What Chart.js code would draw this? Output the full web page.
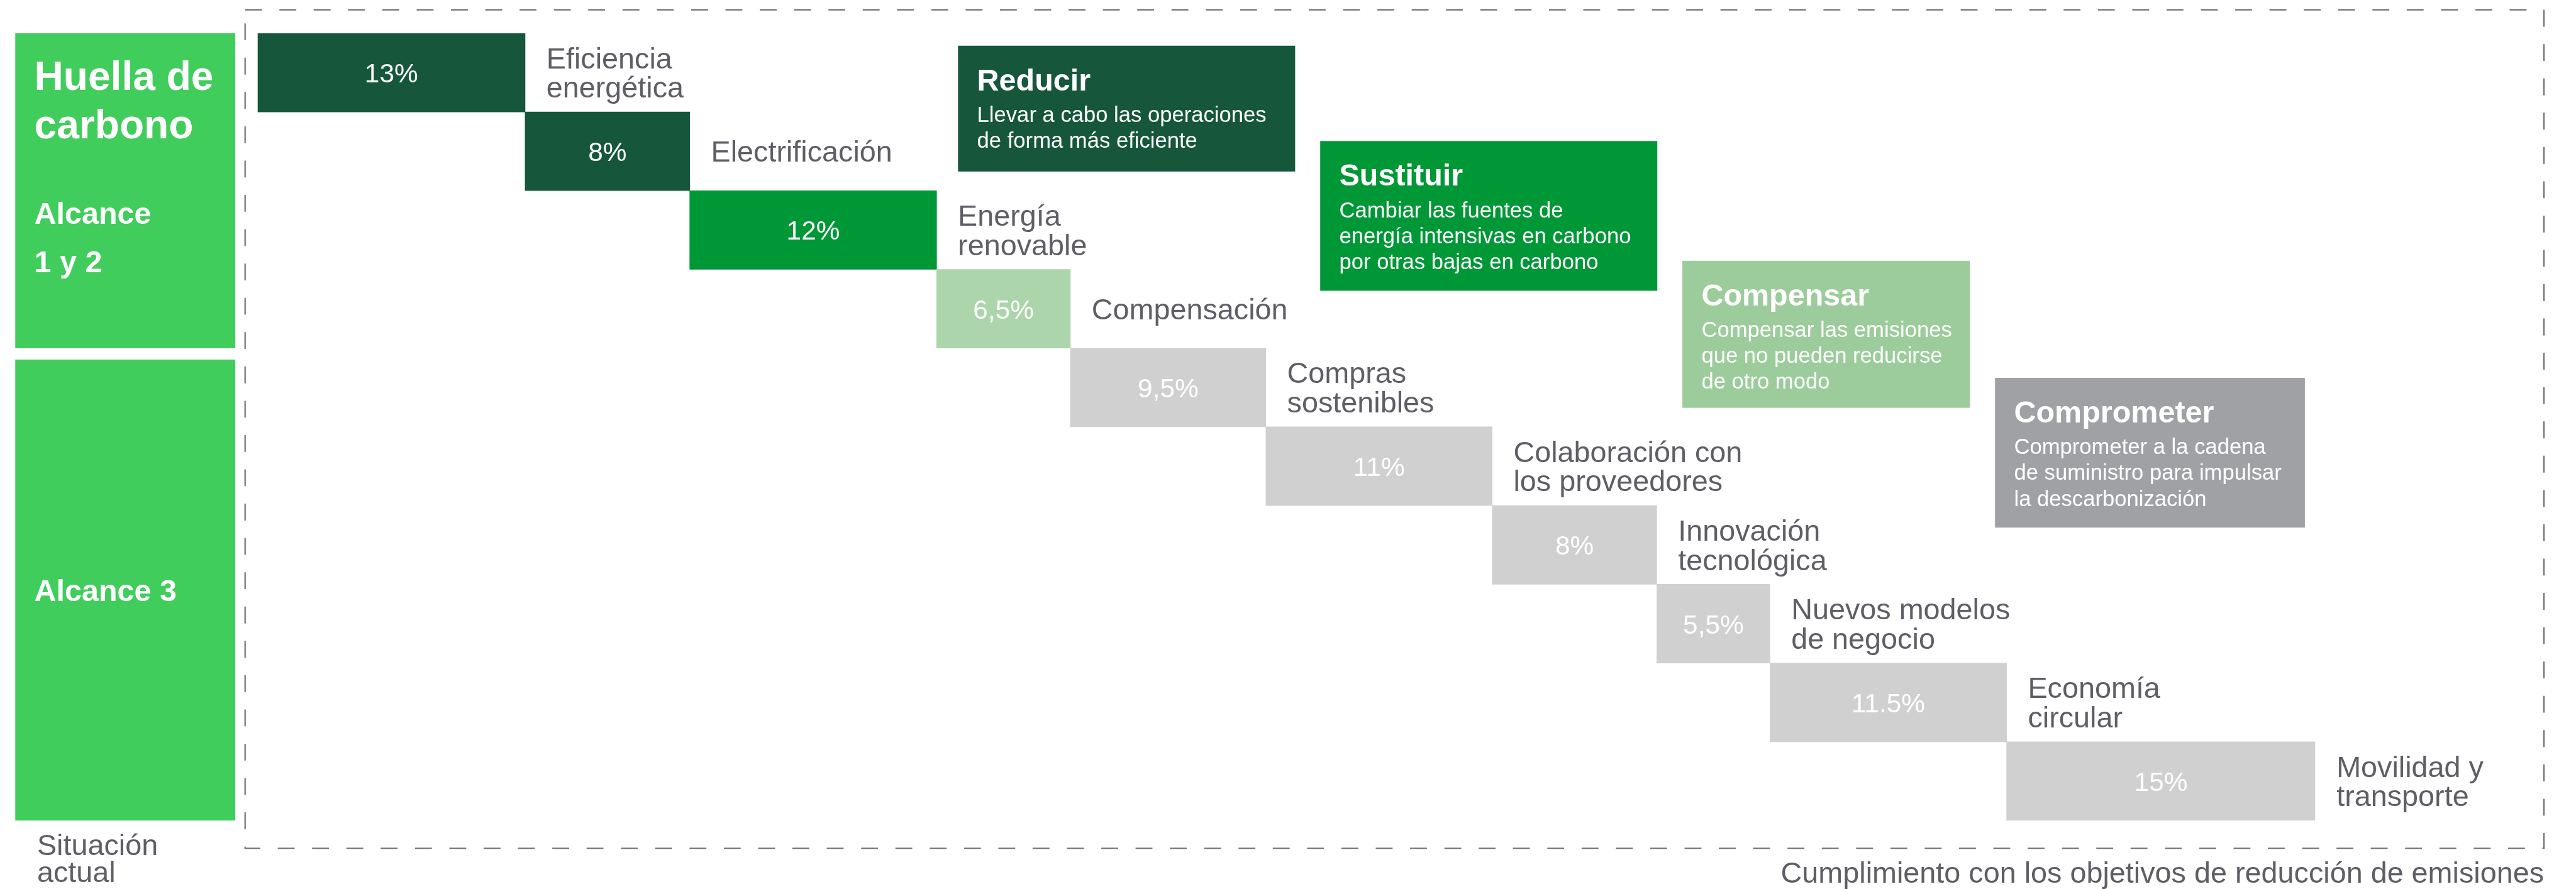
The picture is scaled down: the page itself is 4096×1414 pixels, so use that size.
<!DOCTYPE html>
<html>
<head>
<meta charset="utf-8">
<script src="https://cdn.jsdelivr.net/npm/chart.js@4/dist/chart.umd.min.js"></script>
<style>
  html, body { margin: 0; padding: 0; background: #fff; }
</style>
</head>
<body>
<canvas id="chart" width="4096" height="1414"></canvas>
<script>
// palancas de reducción, en orden de la cascada
const levers = [
  ['Eficiencia', 'energética'],
  ['Electrificación'],
  ['Energía', 'renovable'],
  ['Compensación'],
  ['Compras', 'sostenibles'],
  ['Colaboración con', 'los proveedores'],
  ['Innovación', 'tecnológica'],
  ['Nuevos modelos', 'de negocio'],
  ['Economía', 'circular'],
  ['Movilidad y', 'transporte']
];
const shares = [13, 8, 12, 6.5, 9.5, 11, 8, 5.5, 11.5, 15];
const shareLabels = ['13%', '8%', '12%', '6,5%', '9,5%', '11%', '8%', '5,5%', '11.5%', '15%'];
const leverPillar = [0, 0, 1, 2, 3, 3, 3, 3, 3, 3];

const pillars = ['Reducir', 'Sustituir', 'Compensar', 'Comprometer'];
const pillarNotes = [
  ['Llevar a cabo las operaciones', 'de forma más eficiente'],
  ['Cambiar las fuentes de', 'energía intensivas en carbono', 'por otras bajas en carbono'],
  ['Compensar las emisiones', 'que no pueden reducirse', 'de otro modo'],
  ['Comprometer a la cadena', 'de suministro para impulsar', 'la descarbonización']
];
const pillarBoxColors = ['#16573b', '#009736', '#9ccc9b', '#a0a1a4'];
const pillarBarColors = ['#16573b', '#009736', '#acd5ac', '#d0d0d0'];

const scopeRows = [4, 6];
const scopeTitles = [['Alcance', '1 y 2'], ['Alcance 3']];

// sizes measured on the 4728px reference, scaled down
const S = 0.866;
const px = v => v * S;
const FONT = '"Liberation Sans", Arial, Helvetica, sans-serif';
const GREY = '#5f5e66';

// pillar boxes: left, top, width, height (reference px)
const pillarBoxes = [
  [1759, 84, 619, 231],
  [2424, 259, 619, 275],
  [3089, 479, 528, 270],
  [3663, 694, 569, 275]
];

// waterfall: each step starts where the previous one ended
let acc = 0;
const steps = shares.map(v => {
  const s = [acc, acc + v];
  acc += v;
  return s;
});

function text(ctx, str, x, y, size, color, weight, align) {
  ctx.font = (weight || 'normal') + ' ' + px(size) + 'px ' + FONT;
  ctx.fillStyle = color;
  ctx.textAlign = align || 'left';
  ctx.textBaseline = 'alphabetic';
  ctx.fillText(str, x, y);
}

const decor = {
  id: 'decor',
  beforeDatasetsDraw(chart) {
    const { ctx } = chart;
    ctx.save();
    ctx.strokeStyle = '#707075';
    ctx.lineWidth = px(2.5);
    ctx.setLineDash([px(31), px(32)]);
    ctx.strokeRect(px(450), px(18), px(4671 - 450), px(1558 - 18));
    ctx.restore();
  },
  afterDatasetsDraw(chart) {
    const { ctx, scales: { y } } = chart;
    const band = (y.bottom - y.top) / levers.length;
    const rowTop = i => y.getPixelForValue(i) - band / 2;
    const meta = chart.getDatasetMeta(0);
    ctx.save();

    // situación actual: alcance 1 y 2 / alcance 3
    const top1 = rowTop(0), bot1 = rowTop(scopeRows[0]);
    const top2 = bot1 + px(21), bot2 = y.bottom;
    ctx.fillStyle = '#40cd5c';
    ctx.fillRect(px(28), top1, px(404), bot1 - top1);
    ctx.fillRect(px(28), top2, px(404), bot2 - top2);
    text(ctx, 'Huella de', px(63), top1 + px(104), 74, '#fff', 'bold');
    text(ctx, 'carbono', px(63), top1 + px(193), 74, '#fff', 'bold');
    text(ctx, scopeTitles[0][0], px(63), top1 + px(350), 56, '#fff', 'bold');
    text(ctx, scopeTitles[0][1], px(63), top1 + px(439), 56, '#fff', 'bold');
    text(ctx, scopeTitles[1][0], px(63), (top2 + bot2) / 2 + px(20), 56, '#fff', 'bold');

    // valores y nombres de cada palanca
    meta.data.forEach((bar, i) => {
      const cy = bar.y;
      text(ctx, shareLabels[i], (bar.x + bar.base) / 2, cy + px(18), 49, '#fff', 'normal', 'center');
      const lines = levers[i];
      const lh = px(54);
      lines.forEach((ln, k) => {
        const lc = cy - (lines.length - 1) * lh / 2 + k * lh;
        text(ctx, ln, bar.x + px(39), lc + px(19), 54, GREY);
      });
    });

    // cajas de las cuatro estrategias
    pillarBoxes.forEach((b, i) => {
      const [bx, by, bw, bh] = b;
      ctx.fillStyle = pillarBoxColors[i];
      ctx.fillRect(px(bx), px(by), px(bw), px(bh));
      text(ctx, pillars[i], px(bx + 35), px(by + 82), 56, '#fff', 'bold');
      pillarNotes[i].forEach((ln, k) => {
        text(ctx, ln, px(bx + 35), px(by + 140 + 47.5 * k), 40, '#fff');
      });
    });

    text(ctx, 'Situación', px(68), px(1571), 54, GREY);
    text(ctx, 'actual', px(68), px(1620), 54, GREY);
    text(ctx, 'Cumplimiento con los objetivos de reducción de emisiones', px(4671), px(1621), 54, GREY, 'normal', 'right');
    ctx.restore();
  }
};

new Chart(document.getElementById('chart'), {
  type: 'bar',
  data: {
    labels: levers.map(l => l.join(' ')),
    datasets: [{
      data: steps,
      backgroundColor: leverPillar.map(p => pillarBarColors[p]),
      borderWidth: 0,
      barPercentage: 1,
      categoryPercentage: 1
    }]
  },
  options: {
    indexAxis: 'y',
    responsive: false,
    animation: false,
    layout: {
      padding: { left: px(473), right: 4096 - px(4251), top: px(61), bottom: 1414 - px(1507) }
    },
    scales: {
      x: { min: 0, max: 100, display: false },
      y: { display: false }
    },
    plugins: {
      legend: { display: false },
      tooltip: { enabled: false }
    }
  },
  plugins: [decor]
});
</script>
</body>
</html>
